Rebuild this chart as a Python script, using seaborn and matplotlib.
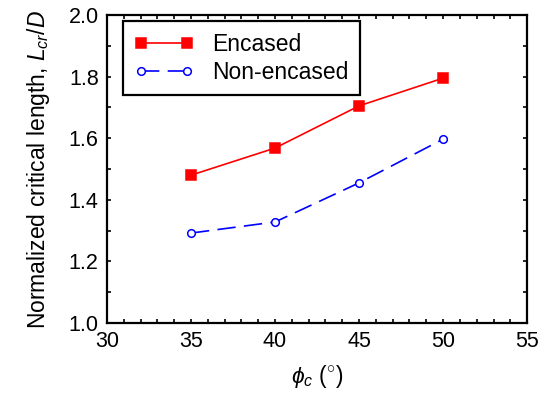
import matplotlib
matplotlib.use("Agg")
import matplotlib.pyplot as plt
from matplotlib.ticker import MultipleLocator
import seaborn as sns
import pandas as pd

# data
phi_c = [35, 40, 45, 50]
encased = [1.48, 1.568, 1.705, 1.795]
non_encased = [1.292, 1.328, 1.455, 1.597]

df = pd.DataFrame({
    'phi': phi_c * 2,
    'Lcr': encased + non_encased,
    'case': ['Encased'] * 4 + ['Non-encased'] * 4,
})

sns.set_style('ticks')
plt.rcParams['font.family'] = ['Liberation Sans', 'DejaVu Sans']
plt.rcParams['mathtext.fontset'] = 'custom'
plt.rcParams['mathtext.it'] = 'Liberation Sans:italic'
plt.rcParams['mathtext.rm'] = 'Liberation Sans'
plt.rcParams['text.color'] = 'black'
plt.rcParams['axes.labelcolor'] = 'black'
plt.rcParams['xtick.color'] = 'black'
plt.rcParams['ytick.color'] = 'black'

fs = 15.5
lfs = 16.5
fig = plt.figure(figsize=(5.39, 4.12), dpi=100)
ax = fig.add_axes([0.1985, 0.216, 0.7795, 0.7476])

colors = {'Encased': 'red', 'Non-encased': 'blue'}
ax = sns.lineplot(data=df, x='phi', y='Lcr', hue='case', style='case',
                  palette=colors,
                  markers={'Encased': 's', 'Non-encased': 'o'},
                  dashes={'Encased': '', 'Non-encased': (11, 5)},
                  linewidth=1.2, ax=ax)

for line, name in zip(ax.lines[:2], ['Encased', 'Non-encased']):
    line.set_markeredgecolor(colors[name])
    if name == 'Encased':
        line.set_markerfacecolor('red')
        line.set_markersize(6.5)
    else:
        line.set_markerfacecolor('white')
        line.set_markersize(5.5)
    line.set_markeredgewidth(1.1)

ax.set_xlim(30, 55)
ax.set_ylim(1.0, 2.0)
ax.xaxis.set_major_locator(MultipleLocator(5))
ax.yaxis.set_major_locator(MultipleLocator(0.2))
ax.xaxis.set_minor_locator(MultipleLocator(1))
ax.yaxis.set_minor_locator(MultipleLocator(0.1))
ax.yaxis.set_major_formatter(plt.FuncFormatter(lambda v, p: f'{v:.1f}'))
ax.tick_params(which='both', direction='in', top=True, right=True,
               length=3, width=1.2, labelsize=fs, pad=6, colors='black')
for s in ax.spines.values():
    s.set_linewidth(1.6)
    s.set_color('black')

ax.set_xlabel(r'$\phi_c$ ($^{\circ}$)', fontsize=lfs, labelpad=8)
ax.set_ylabel(r'Normalized critical length, $L_{cr}$/$D$', fontsize=lfs, labelpad=12)

# rebuild legend from the plotted lines
handles = ax.lines[:2]
leg = ax.legend(handles, ['Encased', 'Non-encased'], loc='upper left',
                bbox_to_anchor=(0.038, 0.98), fontsize=lfs, frameon=True,
                fancybox=False, edgecolor='black', framealpha=1,
                handlelength=2.6, numpoints=2, borderpad=0.5,
                labelspacing=0.22, handletextpad=0.8, borderaxespad=0)
leg.get_frame().set_linewidth(1.6)
for t in leg.get_texts():
    t.set_color('black')

fig.savefig('out.png', dpi=100)
